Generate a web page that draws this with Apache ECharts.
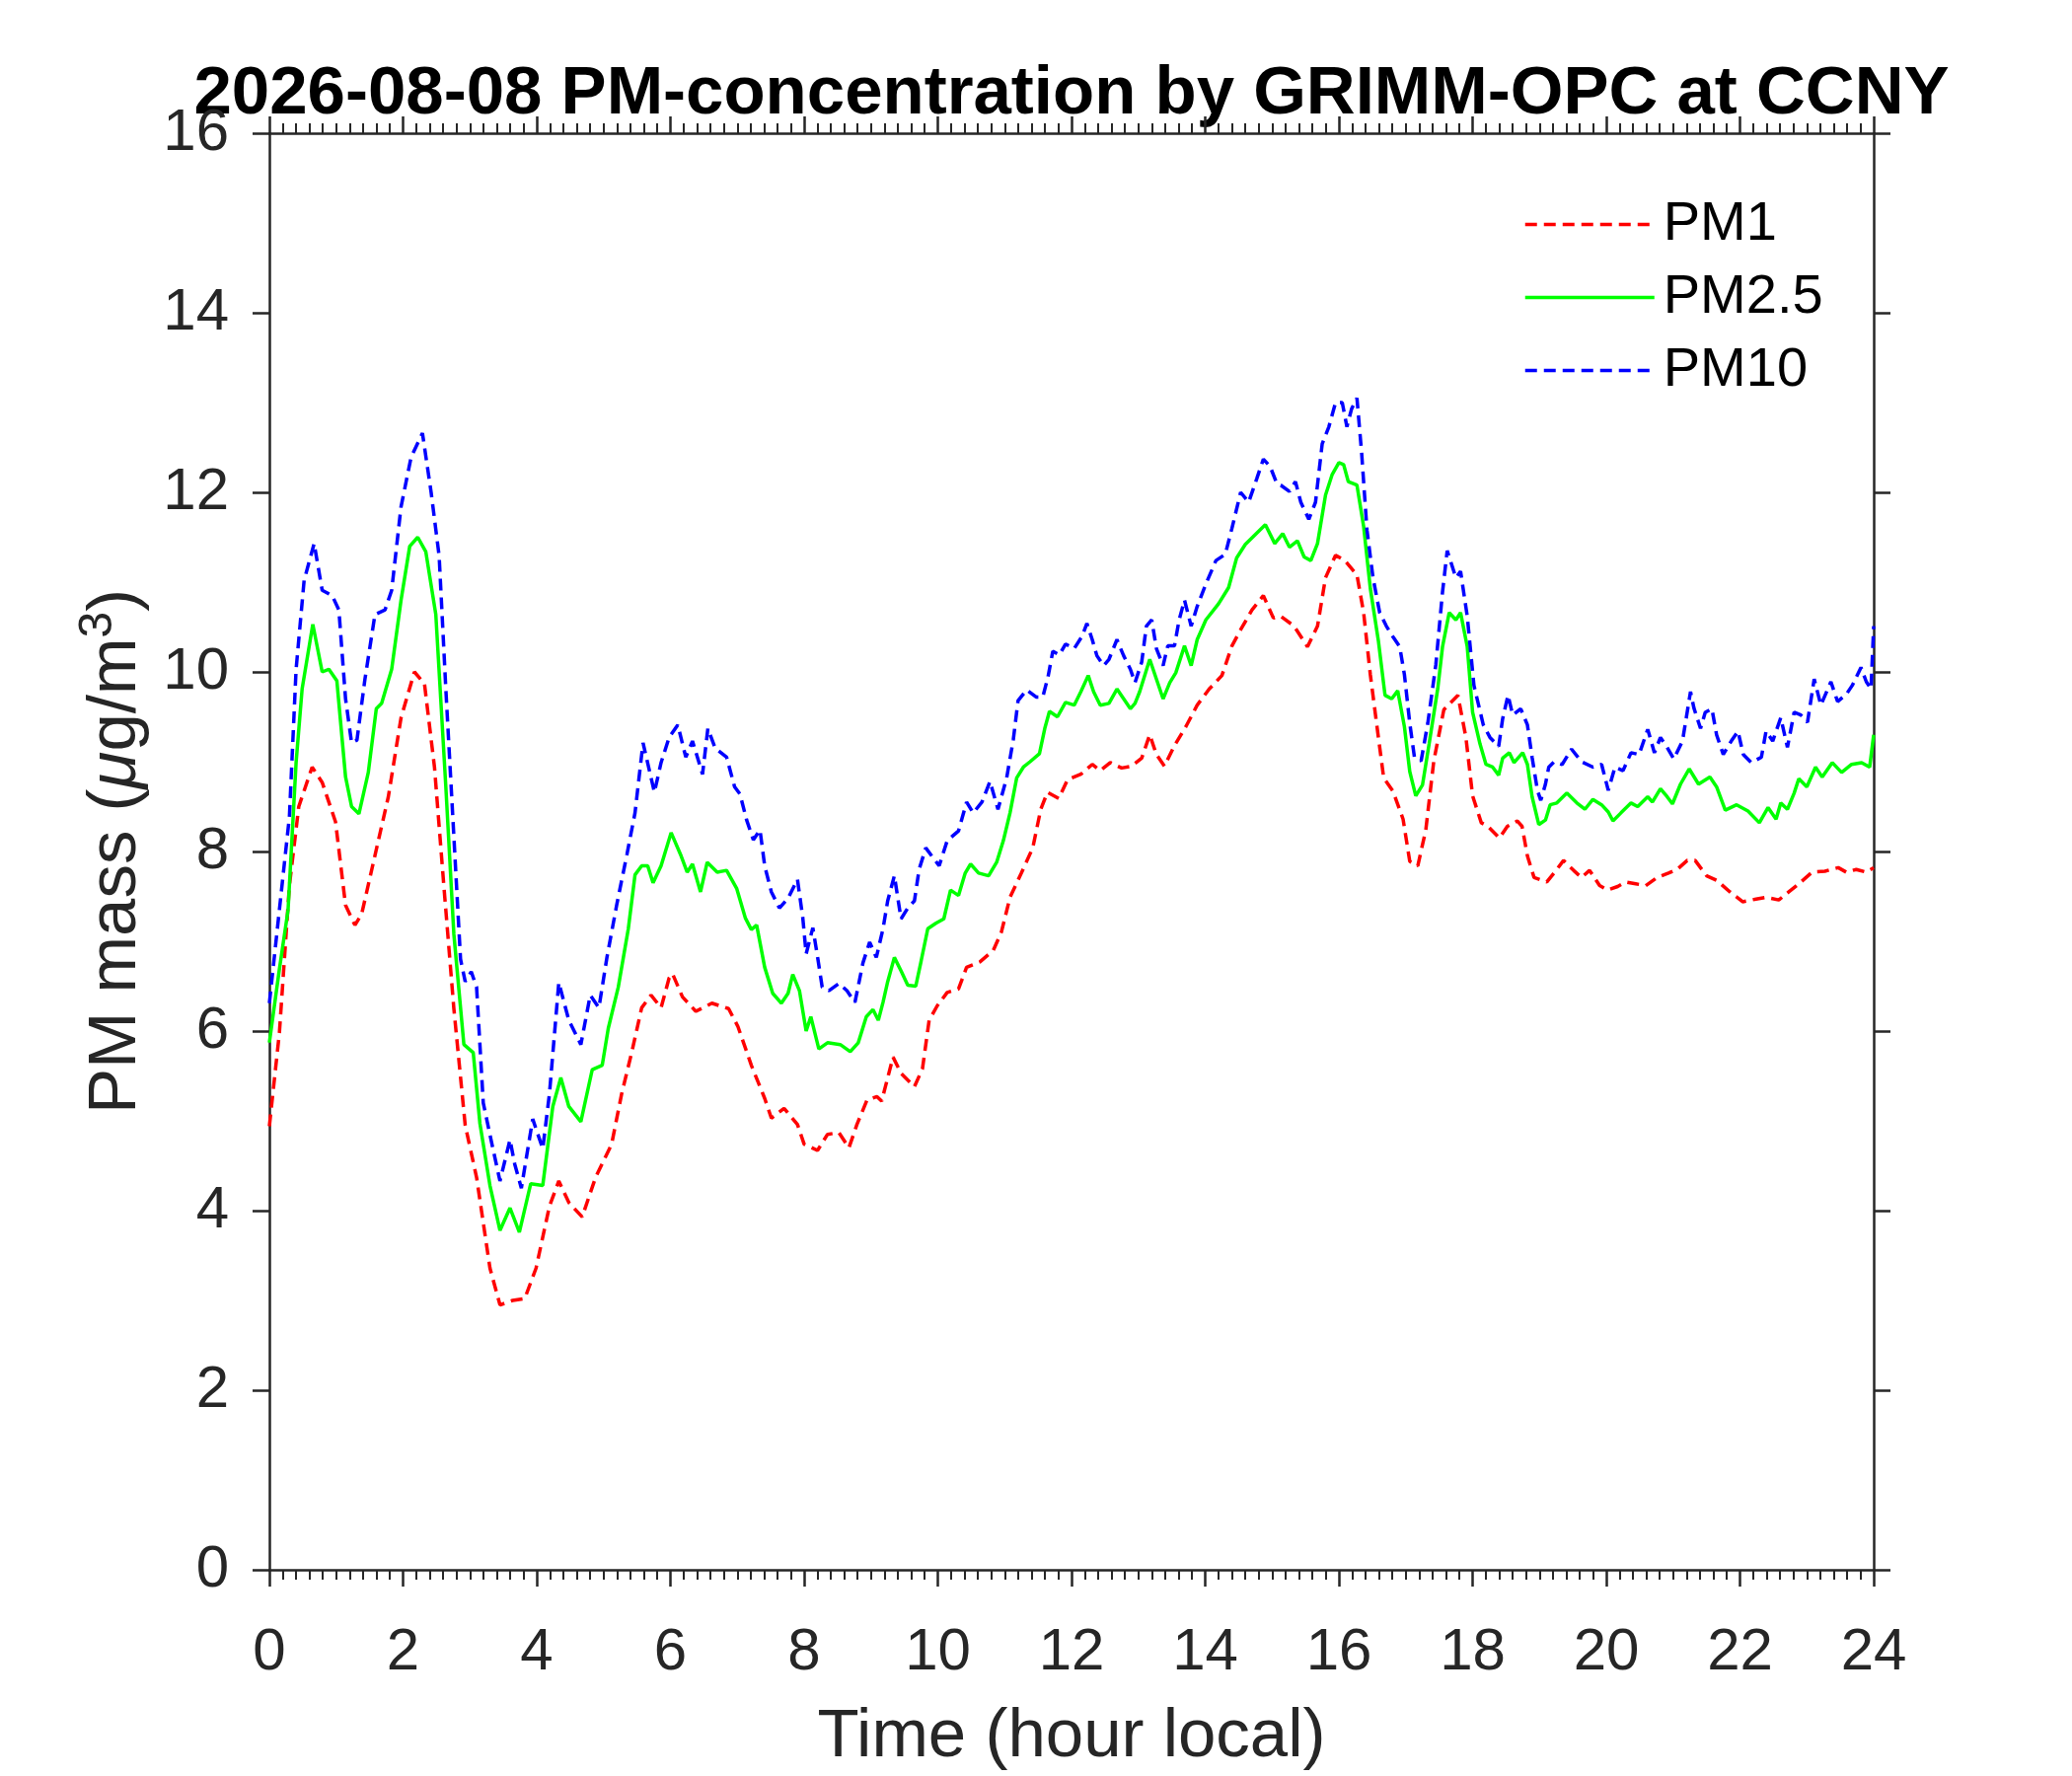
<!DOCTYPE html>
<html lang="en">
<head>
    <meta charset="UTF-8">
    <title>PM-concentration by GRIMM-OPC at CCNY</title>
    <script src="https://cdn.jsdelivr.net/npm/echarts@6/dist/echarts.min.js"></script>
    <style>
        html, body { margin: 0; padding: 0; background: #fff; }
        #chart { width: 2100px; height: 1800px; }
    </style>
</head>
<body>
<div id="chart"></div>
<script>

  // values (hour local, ug/m3)
  var pm1Hours = [0, 0.15, 0.3, 0.44, 0.64, 0.79, 0.99, 1.14, 1.28, 1.38, 1.63, 1.78, 1.97, 2.17, 2.32, 2.47, 2.61, 2.76, 2.93, 3.1,
    3.3, 3.45, 3.64, 3.82, 3.99, 4.19, 4.33, 4.48, 4.68, 4.88, 5.12, 5.27, 5.42, 5.57, 5.71, 5.86, 5.98, 6.03, 6.18, 6.38,
    6.62, 6.87, 7.01, 7.21, 7.41, 7.51, 7.7, 7.9, 8.0, 8.2, 8.35, 8.52, 8.67, 8.79, 8.94, 9.09, 9.16, 9.33, 9.45, 9.65,
    9.77, 9.87, 9.99, 10.14, 10.31, 10.43, 10.63, 10.83, 10.95, 11.08, 11.25, 11.42, 11.54, 11.64, 11.81, 11.94, 12.14, 12.31, 12.43, 12.58,
    12.75, 12.9, 13.05, 13.17, 13.27, 13.39, 13.54, 13.71, 13.88, 14.06, 14.25, 14.4, 14.53, 14.7, 14.87, 15.02, 15.13, 15.33, 15.53, 15.68,
    15.8, 15.95, 16.09, 16.27, 16.37, 16.47, 16.57, 16.67, 16.81, 16.96, 17.06, 17.18, 17.3, 17.42, 17.57, 17.78, 17.9, 18.0, 18.13, 18.23,
    18.4, 18.52, 18.67, 18.74, 18.82, 18.92, 19.11, 19.26, 19.36, 19.51, 19.63, 19.75, 19.9, 20.02, 20.17, 20.29, 20.44, 20.59, 20.76, 20.93,
    21.06, 21.21, 21.33, 21.5, 21.65, 21.85, 22.04, 22.24, 22.39, 22.58, 22.73, 22.88, 23.08, 23.27, 23.47, 23.59, 23.74, 23.89, 24.0];
  var pm1Values = [4.94, 5.98, 7.62, 8.5, 8.94, 8.77, 8.33, 7.4, 7.18, 7.3, 8.12, 8.61, 9.49, 10.0, 9.87, 8.94, 7.62, 6.25, 4.95, 4.37,
    3.36, 2.95, 3.0, 3.02, 3.36, 4.05, 4.33, 4.09, 3.93, 4.37, 4.74, 5.3, 5.76, 6.26, 6.4, 6.26, 6.59, 6.64, 6.38, 6.22,
    6.31, 6.25, 6.05, 5.62, 5.25, 5.03, 5.14, 4.96, 4.74, 4.67, 4.85, 4.87, 4.7, 4.96, 5.23, 5.27, 5.22, 5.71, 5.53, 5.38,
    5.58, 6.12, 6.28, 6.43, 6.47, 6.71, 6.77, 6.9, 7.1, 7.49, 7.76, 8.04, 8.47, 8.66, 8.59, 8.8, 8.86, 8.97, 8.9, 8.99,
    8.93, 8.95, 9.04, 9.3, 9.08, 8.95, 9.18, 9.39, 9.63, 9.81, 9.96, 10.29, 10.47, 10.69, 10.85, 10.6, 10.62, 10.51, 10.28, 10.51,
    11.05, 11.3, 11.24, 11.08, 10.66, 9.97, 9.39, 8.82, 8.67, 8.36, 7.89, 7.84, 8.24, 9.01, 9.58, 9.74, 9.27, 8.62, 8.32, 8.28,
    8.15, 8.28, 8.34, 8.28, 7.95, 7.71, 7.66, 7.8, 7.9, 7.79, 7.71, 7.79, 7.62, 7.57, 7.61, 7.66, 7.64, 7.62, 7.71, 7.76,
    7.8, 7.9, 7.9, 7.73, 7.68, 7.55, 7.44, 7.47, 7.49, 7.46, 7.55, 7.64, 7.77, 7.78, 7.82, 7.77, 7.8, 7.77, 7.82];

  var pm25Hours = [0, 0.15, 0.28, 0.4, 0.49, 0.65, 0.79, 0.89, 1.01, 1.14, 1.23, 1.34, 1.48, 1.6, 1.68, 1.83, 1.97, 2.1, 2.22, 2.34,
    2.49, 2.64, 2.76, 2.91, 3.05, 3.15, 3.3, 3.45, 3.6, 3.74, 3.91, 4.09, 4.24, 4.36, 4.48, 4.66, 4.83, 4.98, 5.07, 5.22,
    5.37, 5.47, 5.57, 5.66, 5.74, 5.86, 6.01, 6.16, 6.25, 6.33, 6.45, 6.55, 6.7, 6.84, 6.99, 7.12, 7.21, 7.29, 7.41, 7.53,
    7.66, 7.76, 7.83, 7.93, 8.03, 8.1, 8.22, 8.35, 8.54, 8.69, 8.81, 8.93, 9.03, 9.11, 9.18, 9.25, 9.35, 9.45, 9.55, 9.67,
    9.75, 9.85, 9.97, 10.09, 10.19, 10.31, 10.41, 10.49, 10.61, 10.76, 10.88, 10.98, 11.08, 11.18, 11.28, 11.38, 11.52, 11.6, 11.67, 11.79,
    11.91, 12.04, 12.14, 12.25, 12.33, 12.43, 12.56, 12.68, 12.78, 12.88, 12.95, 13.02, 13.17, 13.27, 13.37, 13.47, 13.56, 13.69, 13.79, 13.88,
    14.01, 14.2, 14.35, 14.47, 14.6, 14.75, 14.9, 15.04, 15.16, 15.26, 15.38, 15.48, 15.58, 15.68, 15.8, 15.9, 16.0, 16.07, 16.14, 16.27,
    16.37, 16.47, 16.59, 16.69, 16.79, 16.88, 16.98, 17.06, 17.15, 17.25, 17.35, 17.48, 17.55, 17.65, 17.75, 17.82, 17.92, 18.0, 18.11, 18.2,
    18.3, 18.39, 18.45, 18.55, 18.62, 18.75, 18.82, 18.89, 18.99, 19.09, 19.16, 19.26, 19.41, 19.56, 19.68, 19.8, 19.93, 20.03, 20.1, 20.22,
    20.37, 20.47, 20.62, 20.69, 20.81, 20.91, 20.99, 21.11, 21.24, 21.38, 21.55, 21.65, 21.78, 21.95, 22.12, 22.29, 22.42, 22.54, 22.61, 22.71,
    22.81, 22.88, 23.0, 23.13, 23.23, 23.38, 23.52, 23.67, 23.82, 23.94, 24.0];
  var pm25Values = [5.87, 6.69, 7.35, 8.99, 9.81, 10.53, 10.0, 10.03, 9.9, 8.83, 8.5, 8.42, 8.88, 9.59, 9.65, 10.03, 10.8, 11.4, 11.5, 11.34,
    10.64, 8.72, 7.08, 5.85, 5.76, 4.97, 4.28, 3.78, 4.03, 3.76, 4.3, 4.28, 5.16, 5.48, 5.16, 4.99, 5.57, 5.62, 6.03, 6.49,
    7.14, 7.74, 7.84, 7.84, 7.65, 7.84, 8.21, 7.95, 7.77, 7.86, 7.55, 7.88, 7.77, 7.79, 7.59, 7.26, 7.13, 7.18, 6.71, 6.42,
    6.31, 6.42, 6.63, 6.45, 6.0, 6.16, 5.8, 5.87, 5.85, 5.77, 5.87, 6.16, 6.24, 6.12, 6.32, 6.55, 6.82, 6.67, 6.51, 6.5,
    6.78, 7.14, 7.2, 7.25, 7.57, 7.51, 7.76, 7.86, 7.76, 7.73, 7.88, 8.12, 8.43, 8.82, 8.94, 9.0, 9.09, 9.37, 9.56, 9.5,
    9.66, 9.63, 9.78, 9.96, 9.78, 9.63, 9.65, 9.81, 9.7, 9.59, 9.65, 9.78, 10.14, 9.92, 9.7, 9.88, 9.99, 10.29, 10.07, 10.36,
    10.58, 10.76, 10.94, 11.27, 11.42, 11.53, 11.64, 11.43, 11.54, 11.39, 11.46, 11.28, 11.24, 11.43, 11.97, 12.2, 12.33, 12.31, 12.12, 12.08,
    11.62, 10.93, 10.35, 9.74, 9.7, 9.79, 9.39, 8.89, 8.62, 8.74, 9.2, 9.82, 10.28, 10.66, 10.58, 10.66, 10.28, 9.55, 9.2, 8.97,
    8.94, 8.85, 9.04, 9.1, 8.99, 9.1, 8.97, 8.61, 8.3, 8.35, 8.52, 8.54, 8.65, 8.54, 8.47, 8.58, 8.52, 8.44, 8.34, 8.43,
    8.54, 8.5, 8.61, 8.55, 8.7, 8.61, 8.53, 8.75, 8.92, 8.75, 8.83, 8.72, 8.46, 8.52, 8.45, 8.32, 8.49, 8.36, 8.54, 8.47,
    8.65, 8.81, 8.72, 8.94, 8.83, 8.99, 8.88, 8.97, 8.99, 8.94, 9.3];

  var pm10Hours = [0, 0.15, 0.3, 0.4, 0.52, 0.67, 0.79, 0.94, 1.04, 1.14, 1.23, 1.31, 1.43, 1.58, 1.73, 1.83, 1.97, 2.12, 2.29, 2.42,
    2.54, 2.64, 2.76, 2.86, 2.93, 3.02, 3.1, 3.2, 3.33, 3.45, 3.6, 3.67, 3.77, 3.94, 4.09, 4.19, 4.33, 4.48, 4.66, 4.8,
    4.93, 5.05, 5.2, 5.35, 5.47, 5.59, 5.76, 5.86, 5.98, 6.11, 6.23, 6.33, 6.48, 6.56, 6.67, 6.84, 6.96, 7.04, 7.14, 7.24,
    7.34, 7.41, 7.51, 7.63, 7.76, 7.9, 7.98, 8.03, 8.13, 8.2, 8.27, 8.37, 8.52, 8.64, 8.76, 8.88, 8.98, 9.08, 9.18, 9.25,
    9.35, 9.45, 9.55, 9.65, 9.72, 9.82, 9.94, 10.02, 10.14, 10.31, 10.43, 10.53, 10.66, 10.78, 10.9, 11.03, 11.13, 11.2, 11.33, 11.47,
    11.57, 11.65, 11.72, 11.82, 11.91, 12.04, 12.16, 12.23, 12.31, 12.38, 12.48, 12.56, 12.68, 12.78, 12.88, 12.95, 13.05, 13.12, 13.2, 13.27,
    13.37, 13.44, 13.54, 13.61, 13.69, 13.79, 13.88, 14.01, 14.16, 14.3, 14.4, 14.53, 14.65, 14.77, 14.87, 14.97, 15.07, 15.13, 15.26, 15.35,
    15.43, 15.55, 15.65, 15.75, 15.85, 15.95, 16.05, 16.12, 16.19, 16.27, 16.34, 16.42, 16.51, 16.61, 16.71, 16.81, 16.91, 16.98, 17.06, 17.13,
    17.23, 17.33, 17.45, 17.55, 17.62, 17.75, 17.82, 17.92, 18.02, 18.16, 18.26, 18.39, 18.45, 18.53, 18.6, 18.72, 18.82, 18.89, 18.97, 19.02,
    19.09, 19.14, 19.22, 19.34, 19.48, 19.63, 19.8, 19.93, 20.03, 20.13, 20.25, 20.37, 20.49, 20.62, 20.72, 20.81, 20.91, 21.01, 21.14, 21.26,
    21.31, 21.41, 21.48, 21.58, 21.65, 21.75, 21.87, 21.97, 22.05, 22.17, 22.32, 22.39, 22.49, 22.61, 22.71, 22.81, 22.91, 23.01, 23.11, 23.21,
    23.36, 23.46, 23.59, 23.68, 23.81, 23.89, 23.96, 24.0];
  var pm10Values = [6.31, 7.35, 8.39, 10.03, 11.02, 11.43, 10.91, 10.85, 10.69, 9.7, 9.21, 9.24, 9.92, 10.64, 10.69, 10.91, 11.84, 12.39, 12.66, 12.0,
    11.29, 9.81, 8.17, 6.8, 6.55, 6.66, 6.49, 5.2, 4.74, 4.33, 4.79, 4.52, 4.25, 5.02, 4.69, 5.3, 6.54, 6.12, 5.85, 6.4,
    6.26, 6.82, 7.42, 7.97, 8.43, 9.21, 8.66, 8.99, 9.27, 9.41, 9.05, 9.23, 8.86, 9.37, 9.15, 9.05, 8.72, 8.64, 8.35, 8.13,
    8.24, 7.84, 7.55, 7.37, 7.48, 7.69, 7.26, 6.86, 7.15, 6.83, 6.49, 6.45, 6.53, 6.45, 6.32, 6.76, 6.99, 6.82, 7.14, 7.45,
    7.73, 7.25, 7.37, 7.45, 7.8, 8.04, 7.92, 7.84, 8.12, 8.23, 8.55, 8.43, 8.55, 8.78, 8.47, 8.82, 9.25, 9.68, 9.8, 9.72,
    9.72, 9.95, 10.23, 10.19, 10.31, 10.26, 10.4, 10.54, 10.36, 10.18, 10.07, 10.14, 10.36, 10.18, 10.03, 9.88, 10.11, 10.51, 10.58, 10.26,
    10.07, 10.29, 10.29, 10.58, 10.8, 10.51, 10.73, 10.98, 11.24, 11.31, 11.6, 12.0, 11.89, 12.15, 12.37, 12.29, 12.1, 12.08, 12.01, 12.12,
    11.89, 11.7, 11.89, 12.54, 12.73, 13.0, 13.0, 12.73, 12.93, 13.05, 12.44, 11.58, 11.05, 10.66, 10.51, 10.39, 10.28, 9.97, 9.43, 9.05,
    9.01, 9.43, 10.08, 10.89, 11.35, 11.05, 11.12, 10.62, 9.85, 9.41, 9.27, 9.17, 9.48, 9.74, 9.52, 9.59, 9.41, 9.05, 8.68, 8.57,
    8.75, 8.94, 9.0, 8.97, 9.14, 9.0, 8.94, 8.97, 8.68, 8.94, 8.9, 9.1, 9.08, 9.36, 9.1, 9.27, 9.16, 9.03, 9.23, 9.78,
    9.6, 9.37, 9.55, 9.59, 9.3, 9.08, 9.23, 9.34, 9.08, 8.99, 9.05, 9.34, 9.23, 9.49, 9.16, 9.55, 9.52, 9.44, 9.92, 9.63,
    9.89, 9.67, 9.75, 9.85, 10.05, 9.89, 9.81, 10.51];

  var seriesNames = ['PM1', 'PM2.5', 'PM10'];
  var xTicks = { min: 0, max: 24, step: 2 };
  var yTicks = { min: 0, max: 16, step: 2 };

  function pairs(hours, values) {
    return hours.map(function (h, i) {
      return [h, values[i]];
    });
  }

  var axisColor = '#262626';
  var font = 'Liberation Sans, Arial, Helvetica, sans-serif';

  var myChart = echarts.init(document.getElementById('chart'), null, { renderer: 'canvas' });

  function xAxisOf(position, showLabel) {
    return {
      type        : 'value',
      position    : position,
      min         : xTicks.min,
      max         : xTicks.max,
      interval    : xTicks.step,
      name        : showLabel ? 'Time (hour local)' : '',
      nameLocation: 'middle',
      nameGap     : 135,
      nameTextStyle: { fontFamily: font, fontSize: 69, color: axisColor },
      axisLine    : { show: true, onZero: false, lineStyle: { color: axisColor, width: 2.5 } },
      axisTick    : { show: true, inside: false, length: 17, lineStyle: { color: axisColor, width: 2.5 } },
      minorTick   : { show: true, splitNumber: 10, length: 10, lineStyle: { color: axisColor, width: 2 } },
      axisLabel   : { show: showLabel, margin: 54, fontFamily: font, fontSize: 60, color: axisColor },
      splitLine   : { show: false },
      minorSplitLine: { show: false }
    };
  }

  function yAxisOf(position, showLabel) {
    return {
      type        : 'value',
      position    : position,
      min         : yTicks.min,
      max         : yTicks.max,
      interval    : yTicks.step,
      name        : showLabel ? 'PM mass ({mu|μ}g/m{sup|3})' : '',
      nameLocation: 'middle',
      nameGap     : 113,
      nameTextStyle: {
        fontFamily: font, fontSize: 69, color: axisColor,
        rich: {
          mu : { fontFamily: font, fontSize: 69, fontStyle: 'italic', color: axisColor },
          sup: { fontFamily: font, fontSize: 48, color: axisColor, verticalAlign: 'top', padding: [0, 0, 36, 0] }
        }
      },
      axisLine    : { show: true, onZero: false, lineStyle: { color: axisColor, width: 2.5 } },
      axisTick    : { show: true, inside: false, length: 17, lineStyle: { color: axisColor, width: 2.5 } },
      axisLabel   : { show: showLabel, margin: 41, fontFamily: font, fontSize: 60, color: axisColor },
      splitLine   : { show: false }
    };
  }

  myChart.setOption({
    backgroundColor: '#ffffff',
    animation: false,
    graphic: [
      {
        type : 'text',
        x    : 1086,
        y    : 96,
        style: {
          text             : '2026-08-08 PM-concentration by GRIMM-OPC at CCNY',
          fontFamily       : font,
          fontSize         : 69,
          fontWeight       : 'bold',
          fill             : '#000000',
          textAlign        : 'center',
          textVerticalAlign: 'middle'
        }
      }
    ],
    grid   : { left: 273, right: 201, top: 135, bottom: 204, containLabel: false },
    legend : {
      orient    : 'vertical',
      left      : 1539,
      top       : 194,
      itemWidth : 131,
      itemHeight: 20,
      itemGap   : 17,
      data      : seriesNames,
      itemStyle : { opacity: 0 },
      lineStyle : { width: 3.5 },
      textStyle : { fontFamily: font, fontSize: 56, color: '#000000', lineHeight: 57, padding: [0, 0, 0, 4] }
    },
    xAxis  : [ xAxisOf('bottom', true), xAxisOf('top', false) ],
    yAxis  : [ yAxisOf('left', true), yAxisOf('right', false) ],
    series : [
      {
        name      : seriesNames[0],
        type      : 'line',
        symbol    : 'none',
        lineStyle : { color: '#ff0000', width: 3.5, type: [12, 7] },
        itemStyle : { color: '#ff0000' },
        data      : pairs(pm1Hours, pm1Values)
      },
      {
        name      : seriesNames[1],
        type      : 'line',
        symbol    : 'none',
        lineStyle : { color: '#00ff00', width: 3.5, type: 'solid' },
        itemStyle : { color: '#00ff00' },
        data      : pairs(pm25Hours, pm25Values)
      },
      {
        name      : seriesNames[2],
        type      : 'line',
        symbol    : 'none',
        lineStyle : { color: '#0000ff', width: 3.5, type: [12, 7] },
        itemStyle : { color: '#0000ff' },
        data      : pairs(pm10Hours, pm10Values)
      }
    ]
  });
</script>
</body>
</html>
